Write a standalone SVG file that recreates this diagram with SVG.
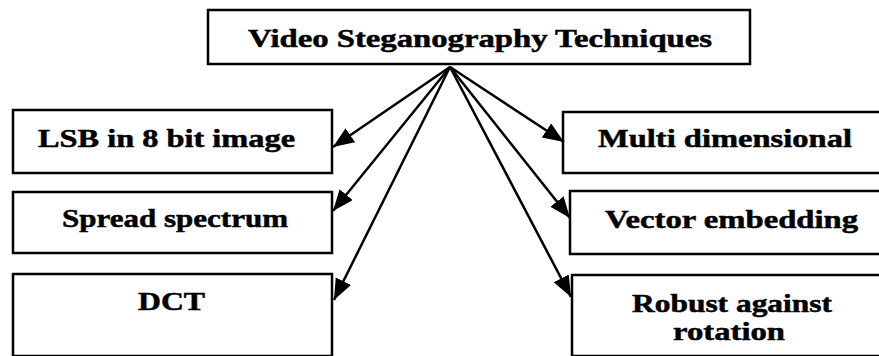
<svg xmlns="http://www.w3.org/2000/svg" width="879" height="356" viewBox="0 0 879 356">
<style>
.box{fill:#fff;stroke:#000;stroke-width:2.5}
.t{font-family:'Liberation Serif','Times New Roman',serif;font-weight:700;font-size:26px;fill:#000;stroke:#000;stroke-width:0.5}
.c{stroke:#000;stroke-width:2.5;fill:none}
</style>
<defs>
<marker id="ah" markerUnits="userSpaceOnUse" markerWidth="24" markerHeight="20" refX="21" refY="8.5" orient="auto">
<path d="M0,0 L21,8.5 L0,17 Z" fill="#000"/>
</marker>
</defs>
<rect width="879" height="356" fill="#fff"/>
<g id="root">
<rect class="box" x="208" y="10" width="542" height="54"/>
<text class="t" x="248" y="47" textLength="464" lengthAdjust="spacingAndGlyphs">Video Steganography Techniques</text>
</g>
<g id="lsb">
<rect class="box" x="13" y="110" width="319" height="63"/>
<text class="t" x="38" y="147" textLength="257" lengthAdjust="spacingAndGlyphs">LSB in 8 bit image</text>
</g>
<g id="spread">
<rect class="box" x="13" y="192" width="319" height="61"/>
<text class="t" x="62" y="227" textLength="226" lengthAdjust="spacingAndGlyphs">Spread spectrum</text>
</g>
<g id="dct">
<rect class="box" x="13" y="274" width="319" height="82"/>
<text class="t" x="138" y="310" textLength="67" lengthAdjust="spacingAndGlyphs">DCT</text>
</g>
<g id="multi">
<rect class="box" x="563" y="112" width="330" height="61"/>
<text class="t" x="598" y="147" textLength="254" lengthAdjust="spacingAndGlyphs">Multi dimensional</text>
</g>
<g id="vector">
<rect class="box" x="570" y="191" width="323" height="63"/>
<text class="t" x="605" y="228" textLength="253" lengthAdjust="spacingAndGlyphs">Vector embedding</text>
</g>
<g id="robust">
<rect class="box" x="572" y="275" width="321" height="81"/>
<text class="t" x="632" y="312" textLength="200" lengthAdjust="spacingAndGlyphs">Robust against</text>
<text class="t" x="673" y="340" textLength="112" lengthAdjust="spacingAndGlyphs">rotation</text>
</g>
<g id="connectors">
<line class="c" x1="450" y1="67" x2="333" y2="147" marker-end="url(#ah)"/>
<line class="c" x1="450" y1="67" x2="333" y2="211" marker-end="url(#ah)"/>
<line class="c" x1="450" y1="67" x2="334" y2="300" marker-end="url(#ah)"/>
<line class="c" x1="450" y1="67" x2="564" y2="142" marker-end="url(#ah)"/>
<line class="c" x1="450" y1="67" x2="570" y2="218" marker-end="url(#ah)"/>
<line class="c" x1="450" y1="67" x2="571" y2="297" marker-end="url(#ah)"/>
</g>
</svg>
